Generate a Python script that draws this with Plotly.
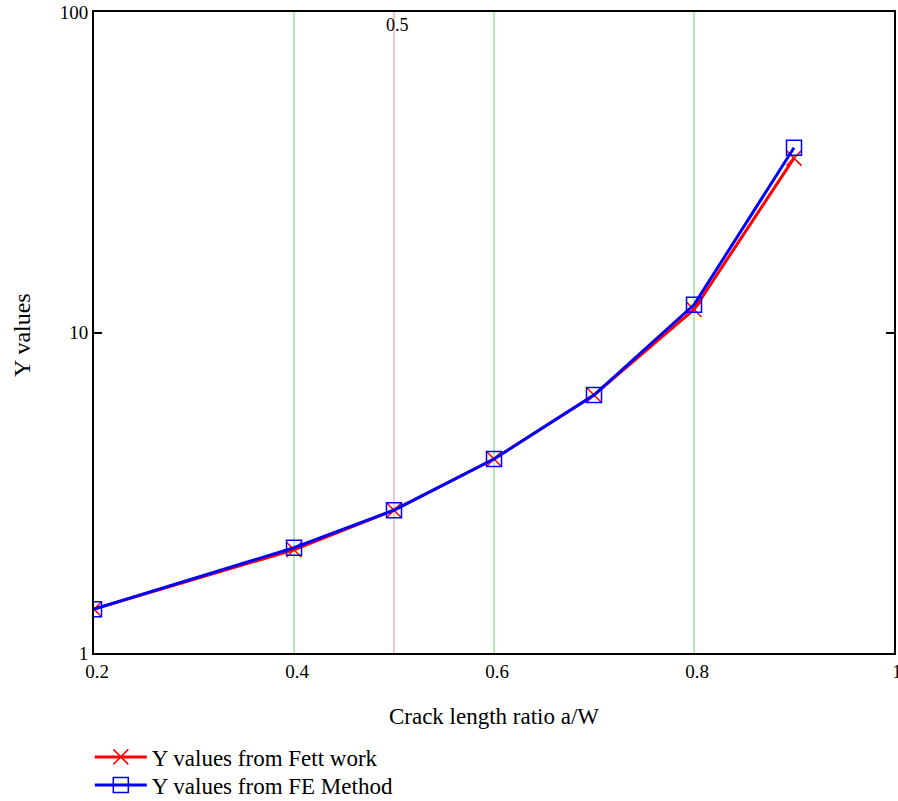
import plotly.graph_objects as go

# Crack length ratio a/W and geometry factor Y
ratio = [0.2, 0.4, 0.5, 0.6, 0.7, 0.8, 0.9]
y_fett = [1.37, 2.10, 2.79, 4.03, 6.38, 11.8, 35.0]
y_fe = [1.37, 2.13, 2.79, 4.03, 6.38, 12.2, 37.7]

green_marks = [0.4, 0.6, 0.8]
red_mark = 0.5

FONT = "Liberation Serif"

fig = go.Figure()
fig.add_trace(go.Scatter(
    x=ratio, y=y_fett, mode="lines+markers", name="Y values from Fett work",
    line=dict(color="#ff0000", width=3), legend="legend",
    marker=dict(symbol="x-thin-open", size=15, color="#ff0000",
                line=dict(color="#ff0000", width=1.5)),
))
fig.add_trace(go.Scatter(
    x=ratio, y=y_fe, mode="lines+markers", name="Y values from FE Method",
    line=dict(color="#0000ff", width=3), legend="legend2",
    marker=dict(symbol="square-open", size=15, color="#0000ff",
                line=dict(color="#0000ff", width=1.5)),
))

for xv in green_marks:
    fig.add_shape(type="line", xref="x", yref="paper", x0=xv, x1=xv, y0=0, y1=1,
                  line=dict(color="#66d966", width=1), layer="below")
fig.add_shape(type="line", xref="x", yref="paper", x0=red_mark, x1=red_mark, y0=0, y1=1,
              line=dict(color="#f48a8a", width=1), layer="below")
fig.add_annotation(x=red_mark, y=1, xref="x", yref="paper", text=str(red_mark),
                   showarrow=False, xanchor="left", yanchor="top", xshift=-10, yshift=-1,
                   font=dict(family=FONT, size=18, color="black"))

# vertical axis title
fig.add_annotation(x=-0.09, y=0.496, xref="paper", yref="paper", text="Y values",
                   showarrow=False, textangle=-90, xanchor="center", yanchor="middle",
                   font=dict(family=FONT, size=24, color="black"))

legend_style = dict(xref="container", yref="container", xanchor="left", yanchor="middle",
                    font=dict(family=FONT, size=23), itemwidth=52,
                    bgcolor="rgba(0,0,0,0)")

fig.update_layout(
    width=898, height=801,
    margin=dict(l=94, r=4, t=12, b=148, autoexpand=False),
    plot_bgcolor="white", paper_bgcolor="white",
    font=dict(family=FONT, size=19, color="black"),
    showlegend=True,
    legend=dict(x=0.1, y=0.055, **legend_style),
    legend2=dict(x=0.1, y=0.020, **legend_style),
)
fig.update_xaxes(
    range=[0.2, 1], dtick=0.2, tick0=0.2, showgrid=False, zeroline=False,
    showline=True, linecolor="black", linewidth=2, mirror=True,
    ticks="", tickfont=dict(size=19), ticklabeloverflow="allow", ticklabelshift=3,
    title=dict(text="Crack length ratio a/W", font=dict(size=23), standoff=27),
)
fig.update_yaxes(
    type="log", range=[0, 2], dtick=1, showgrid=False, zeroline=False,
    showline=True, linecolor="black", linewidth=2, mirror="ticks",
    ticks="inside", ticklen=8, tickwidth=1.5, tickcolor="black",
    tickfont=dict(size=19),
)

fig.write_html("out.html")
